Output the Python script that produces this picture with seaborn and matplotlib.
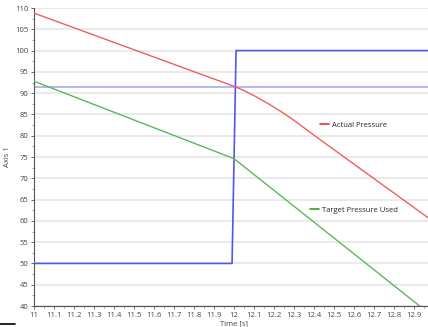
import matplotlib
matplotlib.use("Agg")
import matplotlib.pyplot as plt
import seaborn as sns
import pandas as pd
import numpy as np
from matplotlib.lines import Line2D
from matplotlib.ticker import MultipleLocator, FuncFormatter

# ---- data ----
actual_t = [11.0, 11.5, 12.0, 12.05, 12.1, 12.15, 12.2, 12.25, 12.3, 12.4, 12.5,
            12.6, 12.7, 12.8, 12.9, 13.0]
actual_p = [108.8, 100.2, 91.6, 90.6, 89.4, 88.1, 86.7, 85.2, 83.6, 80.1, 76.7,
            73.3, 69.9, 66.5, 63.1, 59.7]

target_t = [11.0, 12.0, 13.0]
target_p = [92.8, 74.6, 37.3]

step_t = [11.0, 11.99, 12.01, 13.0]
step_v = [50, 50, 100, 100]

ref_level = 91.5

sns.set_style("white")
plt.rcParams['font.family'] = ['Open Sans', 'DejaVu Sans']

fig = plt.figure(figsize=(4.28, 3.27), dpi=100)
ax = fig.add_axes([0.0794, 0.0642, 0.935, 0.9113])

ax.yaxis.grid(True, color="#e6e6e6", linewidth=1.2)
ax.set_axisbelow(True)

ax.axhline(ref_level, color="#a8a8f4", linewidth=1.2, zorder=2)

df_step = pd.DataFrame({"t": step_t, "v": step_v})
sns.lineplot(data=df_step, x="t", y="v", ax=ax, color="#5555e6", linewidth=1.2,
             sort=False, estimator=None, zorder=3)

df_act = pd.DataFrame({"t": actual_t, "p": actual_p})
sns.lineplot(data=df_act, x="t", y="p", ax=ax, color="#ee6060", linewidth=1.0,
             estimator=None, zorder=4)
df_tar = pd.DataFrame({"t": target_t, "p": target_p})
sns.lineplot(data=df_tar, x="t", y="p", ax=ax, color="#5cb85c", linewidth=1.0,
             estimator=None, zorder=4)

ax.set_xlim(11, 13)
ax.set_ylim(40, 110)
ax.xaxis.set_major_locator(MultipleLocator(0.1))
ax.xaxis.set_minor_locator(MultipleLocator(0.05))
ax.yaxis.set_major_locator(MultipleLocator(5))
ax.yaxis.set_minor_locator(MultipleLocator(2.5))
ax.xaxis.set_major_formatter(FuncFormatter(lambda v, p: f"{v:.1f}".rstrip("0").rstrip(".")))

ax.tick_params(axis="both", which="major", labelsize=5.5, length=2.5, width=0.6,
               colors="#555555", direction="out", pad=1.5, bottom=True, left=True)
ax.tick_params(axis="both", which="minor", length=1.5, width=0.5, colors="#777777",
               bottom=True, left=True)
for t in ax.get_xticklabels() + ax.get_yticklabels():
    t.set_color("#444444")

for s in ["top", "right"]:
    ax.spines[s].set_visible(False)
for s in ["left", "bottom"]:
    ax.spines[s].set_color("#555555")
    ax.spines[s].set_linewidth(0.8)

ax.set_xlabel("Time [s]", fontsize=5.5, color="#444444", labelpad=1)
ax.set_ylabel("Axis 1", fontsize=5.5, color="#444444", labelpad=3)

h1 = [Line2D([0], [0], color="#ee3030", linewidth=1.2)]
leg1 = ax.legend(h1, ["Actual Pressure"], loc="center left", bbox_to_anchor=(0.715, 0.607),
                 frameon=False, fontsize=5.5, handlelength=1.2, handletextpad=0.3,
                 borderaxespad=0, borderpad=0)
ax.add_artist(leg1)
h2 = [Line2D([0], [0], color="#30a030", linewidth=1.2)]
ax.legend(h2, ["Target Pressure Used"], loc="center left", bbox_to_anchor=(0.69, 0.322),
          frameon=False, fontsize=5.5, handlelength=1.2, handletextpad=0.3,
          borderaxespad=0, borderpad=0)

fig.add_artist(Line2D([0.0, 0.036], [0.009, 0.009], color="black", linewidth=1.2,
                      transform=fig.transFigure))

fig.savefig("out.png", dpi=100)
